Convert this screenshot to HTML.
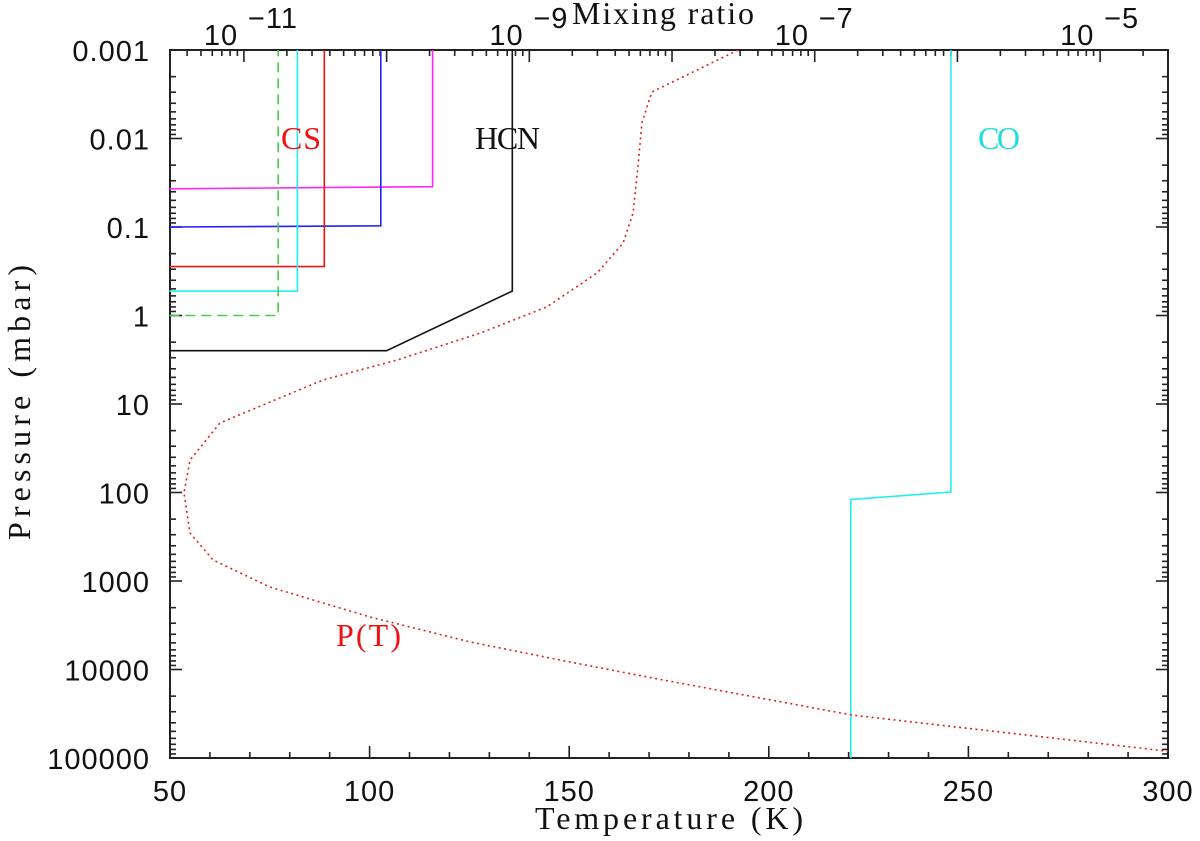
<!DOCTYPE html>
<html><head><meta charset="utf-8"><style>
body{margin:0;background:#fff;}
svg{display:block;}
.tk{font-family:"Liberation Sans",sans-serif;font-size:29px;fill:#111;letter-spacing:1px;}
.ti{font-family:"Liberation Serif",serif;font-size:32px;}
</style></head><body>
<svg id="chart" width="1200" height="841" viewBox="0 0 1200 841" xmlns="http://www.w3.org/2000/svg"></svg>
<script>
// Temperature profile P(T)
const ptTemps = [192.3,170.7,168.2,167.2,166.0,163.5,157.0,144.4,127.7,106.9,88.3,62.5,55.0,53.5,55.0,60.8,75.0,100.1,125.2,150.2,171.0,220.8,300.0];
const ptPress = [0.001,0.00299,0.00668,0.021,0.0695,0.152,0.331,0.80,1.58,3.18,5.36,16.4,43.0,101,287,579,1170,2550,4890,8220,12500,32700,84100];
// Mixing ratio profiles: [mixing ratio, pressure]
const magentaX = [3e-12,2.1e-10,2.1e-10];  const magentaP = [0.037,0.035,0.001];
const blueX = [3e-12,9.1e-11,9.1e-11];     const blueP = [0.1,0.097,0.001];
const redX = [3e-12,3.66e-11,3.66e-11];    const redP = [0.28,0.28,0.001];
const cyanX = [3e-12,2.37e-11,2.37e-11];   const cyanP = [0.53,0.53,0.001];
const greenX = [3e-12,1.74e-11,1.74e-11];  const greenP = [1.0,1.0,0.001];
const hcnX = [3e-12,1e-10,7.6e-10,7.6e-10]; const hcnP = [2.5,2.5,0.53,0.001];
const coX = [1.79e-7,1.79e-7,9e-7,9e-7];   const coP = [100000,120,98.6,0.001];
const yTickLabels = ["0.001","0.01","0.1","1","10","100","1000","10000","100000"];
const xTickValues = [50,100,150,200,250,300];
const topExponents = [-11,-9,-7,-5];

const L=170,R=1168,T=50,B=758;
const xT = t => L + (t-50)/250*(R-L);
const yP = p => T + (Math.log10(p)+3)/8*(B-T);
const mxL = -11.518, pxDec = 142.7;
const xM = m => L + (Math.log10(m)-mxL)*pxDec;
const svg = document.getElementById('chart');
const NS='http://www.w3.org/2000/svg';
function mk(tag, attrs, parent){const e=document.createElementNS(NS,tag);for(const k in attrs)e.setAttribute(k,attrs[k]);(parent||svg).appendChild(e);return e;}

const frame = mk('rect',{x:L,y:T,width:R-L,height:B-T,fill:'none',stroke:'#222','stroke-width':2});



const ticksG = mk('g',{stroke:'#222','stroke-width':1.6});


for(let d=-3; d<=5; d++){
  for(let k=1;k<=9;k++){
    if(d===5 && k>1) break;
    const y=yP(k*Math.pow(10,d)); const len = k===1?12:6;
    mk('line',{x1:L,y1:y,x2:L+len,y2:y},ticksG);
    mk('line',{x1:R,y1:y,x2:R-len,y2:y},ticksG);
  }
}
for(let t=50;t<=300;t+=10){
  const x=xT(t); const len = t%50===0?12:6;
  mk('line',{x1:x,y1:B,x2:x,y2:B-len},ticksG);
}
for(let d=-12; d<=-5; d++){
  for(let k=1;k<=9;k++){
    const x=xM(k*Math.pow(10,d)); if(x<L||x>R) continue;
    const len = k===1?12:6;
    mk('line',{x1:x,y1:T,x2:x,y2:T+len},ticksG);
  }
}
yTickLabels.forEach((lab,i)=>{
  const t=mk('text',{x:150,y:yP(Math.pow(10,i-3))+11,'text-anchor':'end',class:'tk'});
  t.textContent=lab;
  
  
});
xTickValues.forEach(v=>{
  const t=mk('text',{x:xT(v),y:801,'text-anchor':'middle',class:'tk'});
  t.textContent=v;
  
  
});
topExponents.forEach(e=>{
  const x=xM(Math.pow(10,e));
  const t=mk('text',{x:x-40,y:45,class:'tk'});
  t.textContent='10';
  
  
  const s=mk('text',{x:x+4,y:28,class:'tk','font-size':'24'});
  s.textContent='\u2212'+Math.abs(e);
  
  
});

function prof(xs, ps, fx, color, name, dash){
  const pts = xs.map((v,i)=>fx(v).toFixed(1)+','+yP(ps[i]).toFixed(1)).join(' ');
  const a={points:pts,fill:'none',stroke:color,'stroke-width':1.6};
  if(dash) a['stroke-dasharray']=dash;
  const e=mk('polyline',a);
  
  
}
prof(magentaX,magentaP,xM,'#ff22ff','magenta-profile');
prof(blueX,blueP,xM,'#2222ff','blue-profile');
prof(redX,redP,xM,'#ee1111','red-profile');
prof(cyanX,cyanP,xM,'#22eeee','cyan-profile');
prof(greenX,greenP,xM,'#44cc44','green-dashed-profile','10 6');
prof(hcnX,hcnP,xM,'#111','hcn-profile');
prof(coX,coP,xM,'#22eeee','co-profile');
prof(ptTemps,ptPress,xT,'#e02020','pt-curve','2 3.5');

function label(txt,x,y,color,name,extra){
  const a=Object.assign({x:x,y:y,fill:color,class:'ti'},extra||{});
  const t=mk('text',a); t.textContent=txt;
  
  
  return t;
}
label('CS',281,149,'#ee1111','cs-label',{textLength:40});
label('HCN',475,149,'#111','hcn-label',{textLength:65});
label('CO',978,149,'#22dddd','co-label',{textLength:42});
label('P(T)',336,646,'#ee1111','pt-label',{textLength:65});
label('Temperature (K)',535,829,'#111','x-axis-title',{textLength:268});
label('Mixing ratio',572,24,'#111','top-axis-title',{textLength:182});
label('Pressure (mbar)',0,0,'#111','y-axis-title',{textLength:275,transform:'translate(30,540) rotate(-90)'});
</script>
</body></html>
